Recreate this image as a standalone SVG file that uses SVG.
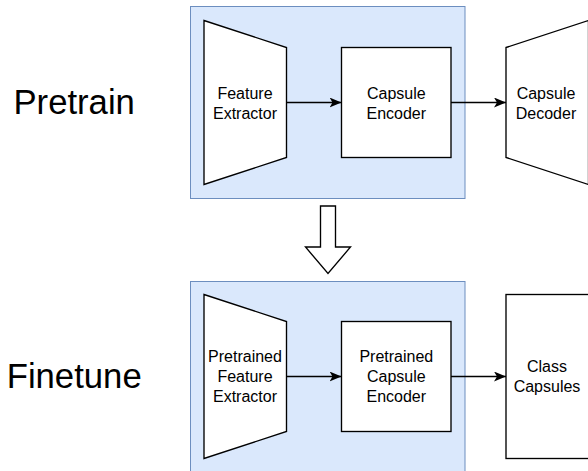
<svg xmlns="http://www.w3.org/2000/svg" width="588" height="471" viewBox="0 0 588 471">
<defs>
<style>
.grp{fill:#dae8fc;stroke:#6c8ebf;stroke-width:1}
.shape{fill:#ffffff;stroke:#000000;stroke-width:1.35}
.lbl{font-family:"Liberation Sans",Arial,sans-serif;font-size:16px;fill:#000000;text-anchor:middle}
.big{font-family:"Liberation Sans",Arial,sans-serif;font-size:34.7px;fill:#000000;text-anchor:middle}
.conn{stroke:#000000;stroke-width:1.35;fill:none}
</style>
<marker id="arr" markerUnits="userSpaceOnUse" markerWidth="14" markerHeight="12" refX="12" refY="5" orient="auto">
<path d="M0,0 L12,5 L0,10 L3,5 Z" fill="#000000"/>
</marker>
</defs>
<rect width="588" height="471" fill="#ffffff"/>
<g id="title-pretrain"><text class="big" x="74.2" y="114.3">Pretrain</text></g>
<g id="title-finetune"><text class="big" x="74.2" y="388.3">Finetune</text></g>
<g id="group-pretrain"><rect class="grp" x="190.5" y="6.5" width="274.5" height="192"/></g>
<g id="group-finetune"><rect class="grp" x="190.5" y="281.5" width="274.5" height="200"/></g>
<g id="feature-extractor">
<polygon class="shape" points="204,20.5 286.5,47.5 286.5,157.5 204,184.5"/>
<text class="lbl" x="245" y="98.5">Feature</text>
<text class="lbl" x="245" y="119">Extractor</text>
</g>
<g id="capsule-encoder">
<rect class="shape" x="341.5" y="47.5" width="109.5" height="110"/>
<text class="lbl" x="396.3" y="98.5">Capsule</text>
<text class="lbl" x="396.3" y="119">Encoder</text>
</g>
<g id="capsule-decoder">
<polygon class="shape" points="506,47.5 588.5,20.5 588.5,184.5 506,157.5"/>
<text class="lbl" x="546" y="98.5">Capsule</text>
<text class="lbl" x="546" y="119">Decoder</text>
</g>
<g id="pretrained-feature-extractor">
<polygon class="shape" points="204,294.5 286.5,321.5 286.5,431.5 204,458.5"/>
<text class="lbl" x="245" y="362">Pretrained</text>
<text class="lbl" x="245" y="382.2">Feature</text>
<text class="lbl" x="245" y="402.4">Extractor</text>
</g>
<g id="pretrained-capsule-encoder">
<rect class="shape" x="341.5" y="321.5" width="109.5" height="110"/>
<text class="lbl" x="396.3" y="362">Pretrained</text>
<text class="lbl" x="396.3" y="382.2">Capsule</text>
<text class="lbl" x="396.3" y="402.4">Encoder</text>
</g>
<g id="class-capsules">
<rect class="shape" x="506" y="294.5" width="83" height="164"/>
<text class="lbl" x="547" y="371.8">Class</text>
<text class="lbl" x="547" y="392.3">Capsules</text>
</g>
<g id="connectors">
<line class="conn" x1="286.5" y1="102.5" x2="341.5" y2="102.5" marker-end="url(#arr)"/>
<line class="conn" x1="451" y1="102.5" x2="506" y2="102.5" marker-end="url(#arr)"/>
<line class="conn" x1="286.5" y1="376.5" x2="341.5" y2="376.5" marker-end="url(#arr)"/>
<line class="conn" x1="451" y1="376.5" x2="506" y2="376.5" marker-end="url(#arr)"/>
<path d="M320.5,206 L335.5,206 L335.5,247 L350.5,247 L328,273.5 L305.5,247 L320.5,247 Z" fill="#ffffff" stroke="#000000" stroke-width="1.35"/>
</g>
</svg>
